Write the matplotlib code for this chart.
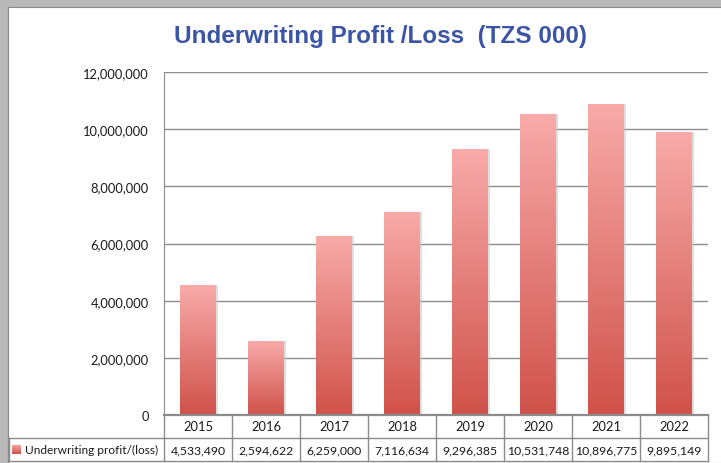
import numpy as np
import matplotlib.pyplot as plt
from matplotlib.colors import LinearSegmentedColormap
from matplotlib.patches import Rectangle

years = ["2015", "2016", "2017", "2018", "2019", "2020", "2021", "2022"]
profit = [4533490, 2594622, 6259000, 7116634, 9296385, 10531748, 10896775, 9895149]
series_name = "Underwriting profit/(loss)"
title = "Underwriting Profit /Loss  (TZS 000)"
yticks = [0, 2000000, 4000000, 6000000, 8000000, 10000000, 12000000]

W, H = 721, 464
small_font = ["Lato", "DejaVu Sans"]
fs = 9.3
tfs = 8.8

fig = plt.figure(figsize=(W / 100, H / 100), dpi=100)
fig.patch.set_facecolor("#b9b9b9")

# white slide panel
fig.patches.append(Rectangle((8 / W, 0), 1, 1 - 8 / H, transform=fig.transFigure,
                             facecolor="white", edgecolor="#8a8a8a", lw=0.8, zorder=-10))

ax = fig.add_axes([164 / W, 48 / H, (708 - 164) / W, (416 - 73) / H])
ax.patch.set_alpha(0)
ax.set_xlim(-0.5, len(years) - 0.5)
ax.set_ylim(0, 12000000)
ax.set_yticks(yticks)
ax.set_yticklabels([f"{v:,}" for v in yticks], family=small_font, fontsize=fs)
ax.set_xticks([])
ax.tick_params(axis="y", length=0, pad=11, labelcolor="#1a1a1a")
ax.grid(axis="y", color="#8c8c8c", lw=1)
ax.set_axisbelow(True)
for s in ["top", "right", "bottom"]:
    ax.spines[s].set_visible(False)
ax.spines["left"].set_color("#8c8c8c")

cmap = LinearSegmentedColormap.from_list("bar", ["#d0524a", "#f8abaa"])
grad = np.linspace(0, 1, 256).reshape(-1, 1)
x = np.arange(len(years))
bw = 0.52

# soft shadow
ax.bar(x + 0.04, profit, width=bw, color="#c4c4c4", alpha=0.55, zorder=2)
bars = ax.bar(x, profit, width=bw, color="none", zorder=3)
for b in bars:
    x0, y0 = b.get_x(), b.get_y()
    im = ax.imshow(grad, cmap=cmap, aspect="auto", origin="lower",
                   extent=[x0, x0 + b.get_width(), y0, y0 + b.get_height()], zorder=3)
    im.set_clip_path(b)
ax.set_xlim(-0.5, len(years) - 0.5)
ax.set_ylim(0, 12000000)

fig.text(381 / W, 1 - 37 / H, title, ha="center", va="center", fontsize=17.5,
         fontweight="bold", color="#3b54a5", family="Liberation Sans")

# data table under the plot
label_w = (164 - 9) / 68
tax = fig.add_axes([9 / W, (464 - 462) / H, (708 - 9) / W, (462 - 416) / H])
tax.set_xlim(-0.5 - label_w, len(years) - 0.5)
tax.set_ylim(0, 2)
tax.axis("off")
lc = "#8c8c8c"
tc = "#1a1a1a"
tax.plot([-0.5, len(years) - 0.5], [2, 2], color=lc, lw=1.6, clip_on=False)
tax.plot([-0.5 - label_w, len(years) - 0.5], [1, 1], color=lc, lw=1, clip_on=False)
tax.plot([-0.5 - label_w, len(years) - 0.5], [0, 0], color=lc, lw=1, clip_on=False)
tax.plot([-0.5 - label_w, -0.5 - label_w], [0, 1], color=lc, lw=1, clip_on=False)
for i in range(len(years) + 1):
    tax.plot([i - 0.5, i - 0.5], [0, 2], color=lc, lw=1, clip_on=False)
for i, (yr, v) in enumerate(zip(years, profit)):
    tax.text(i, 1.5, yr, ha="center", va="center", fontsize=fs, family=small_font, color=tc)
    tax.text(i, 0.5, f"{v:,}", ha="center", va="center", fontsize=tfs, family=small_font,
             color=tc)
tax.text(-0.5 - label_w + 0.23, 0.5, series_name, ha="left", va="center",
         fontsize=8.6, family=small_font, color=tc)
key = Rectangle((-0.5 - label_w + 0.045, 0.3), 0.13, 0.4, color="none")
tax.add_patch(key)
kim = tax.imshow(grad, cmap=cmap, aspect="auto", origin="lower",
                 extent=[-0.5 - label_w + 0.045, -0.5 - label_w + 0.175, 0.3, 0.7])
kim.set_clip_path(key)
tax.set_xlim(-0.5 - label_w, len(years) - 0.5)
tax.set_ylim(0, 2)

fig.savefig("out.png", dpi=100, facecolor=fig.get_facecolor())
